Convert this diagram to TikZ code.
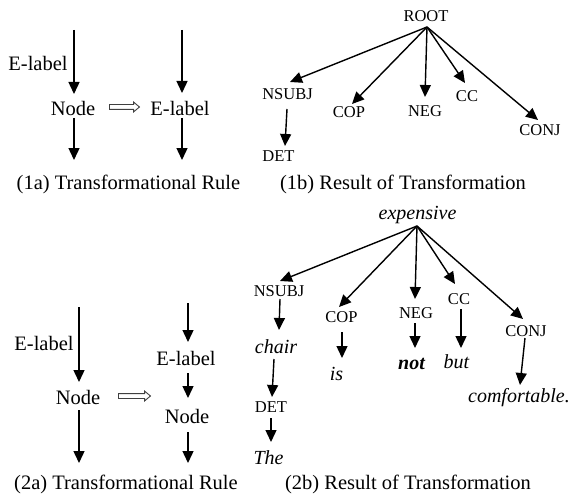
\documentclass[tikz,border=0pt]{standalone}
\usepackage{fontspec}
\setmainfont{Liberation Serif}
\usetikzlibrary{arrows.meta,shapes.arrows}
\tikzset{
  big/.style={font=\fontsize{20.5}{24}\selectfont, inner sep=0pt},
  captxt/.style={font=\fontsize{20.5}{24}\selectfont, inner sep=0pt, anchor=base},
  tl/.style={font=\fontsize{16.5}{20}\selectfont, inner sep=0pt, text height=10.9pt, text depth=0pt},
  wd/.style={font=\fontsize{20}{24}\selectfont\itshape, inner sep=0pt},
  arr/.style={-{Triangle[length=12pt,width=11pt]}, line width=1.4pt},
  hollow/.style={single arrow, draw=black!75, line width=0.9pt, inner sep=0pt,
    single arrow head extend=2.5pt, single arrow tip angle=80,
    text height=4pt, text depth=0pt}
}
\begin{document}
\begin{tikzpicture}[x=1pt,y=-1pt]
\useasboundingbox (0,0) rectangle (571,495);

% ---------- (1a) ----------
\coordinate (c1) at (74,30);
\coordinate (c2) at (74,160);
\coordinate (c3) at (182,30);
\coordinate (c4) at (182,160);
\node[big] (elab1) at (38,63) {E-label};
\node[big] (node1) at (73,108) {Node};
\node[hollow, minimum height=30pt] (ha1) at (123,107) {};
\node[big] (elab2) at (180,108) {E-label};
\draw[arr] (c1) -- ([shift={(1,-14)}]node1.center);
\draw[arr] ([shift={(1,10)}]node1.center) -- (c2);
\draw[arr] (c3) -- ([shift={(2,-15)}]elab2.center);
\draw[arr] ([shift={(2,10)}]elab2.center) -- (c4);
\node[captxt] (cap1a) at (128.5,189) {(1a) Transformational Rule};

% ---------- (1b) ----------
\node[tl] (root) at (426,16) {ROOT};
\node[tl] (nsubj1) at (287.5,94) {NSUBJ};
\node[tl] (cop1) at (349,112.5) {COP};
\node[tl] (neg1) at (425,111) {NEG};
\node[tl] (cc1) at (467,96) {CC};
\node[tl] (conj1) at (540,130) {CONJ};
\node[tl] (det1) at (278.5,156) {DET};
\draw[arr] ([shift={(1,11)}]root.center) -- ([shift={(2.5,-12)}]nsubj1.center);
\draw[arr] ([shift={(1,11)}]root.center) -- ([shift={(3,-8.5)}]cop1.center);
\draw[arr] ([shift={(1,11)}]root.center) -- ([shift={(0,-14)}]neg1.center);
\draw[arr] ([shift={(1,11)}]root.center) -- ([shift={(-2,-13)}]cc1.center);
\draw[arr] ([shift={(1,11)}]root.center) -- ([shift={(-2,-10)}]conj1.center);
\draw[arr] ([shift={(-0.5,15)}]nsubj1.center) -- ([shift={(6.5,-10)}]det1.center);
\node[captxt] (cap1b) at (403,189) {(1b) Result of Transformation};

% ---------- (2a) ----------
\coordinate (c5) at (79,307);
\coordinate (c6) at (79,463);
\coordinate (c7) at (188,303);
\coordinate (c8) at (188,463);
\node[big] (elab3) at (44,343) {E-label};
\node[big] (node3) at (78,397) {Node};
\node[hollow, minimum height=32pt] (ha2) at (133,396) {};
\node[big] (elab4) at (186,358) {E-label};
\node[big] (node4) at (187,416) {Node};
\draw[arr] (c5) -- ([shift={(1,-15)}]node3.center);
\draw[arr] ([shift={(1,13)}]node3.center) -- (c6);
\draw[arr] (c7) -- ([shift={(2,-16)}]elab4.center);
\draw[arr] ([shift={(2,15)}]elab4.center) -- ([shift={(1,-18)}]node4.center);
\draw[arr] ([shift={(1,16)}]node4.center) -- (c8);
\node[captxt] (cap2a) at (126,489) {(2a) Transformational Rule};

% ---------- (2b) ----------
\node[wd] (exp) at (417.5,215) {expensive};
\node[tl] (nsubj2) at (279,291.5) {NSUBJ};
\node[tl] (cop2) at (341.5,317.5) {COP};
\node[tl] (neg2) at (416,313) {NEG};
\node[tl] (cc2) at (459,299) {CC};
\node[tl] (conj2) at (526,331) {CONJ};
\node[wd] (chair) at (276,347) {chair};
\node[tl] (det2) at (271,407) {DET};
\node[wd] (the) at (268.5,458) {The};
\node[wd] (is) at (336.5,374) {is};
\node[wd, font=\fontsize{20}{24}\selectfont\bfseries\itshape] (not) at (411.5,364) {not};
\node[wd] (but) at (456.5,362) {but};
\node[wd] (comf) at (519,398) {comfortable.};
\draw[arr] ([shift={(-0.5,11)}]exp.center) -- ([shift={(1,-10.5)}]nsubj2.center);
\draw[arr] ([shift={(-0.5,11)}]exp.center) -- ([shift={(-2.5,-10.5)}]cop2.center);
\draw[arr] ([shift={(-0.5,11)}]exp.center) -- ([shift={(-1,-14)}]neg2.center);
\draw[arr] ([shift={(-0.5,11)}]exp.center) -- ([shift={(-4,-15)}]cc2.center);
\draw[arr] ([shift={(-0.5,11)}]exp.center) -- ([shift={(-3,-12)}]conj2.center);
\draw[arr] ([shift={(1,7.5)}]nsubj2.center) -- ([shift={(3,-17)}]chair.center);
\draw[arr] ([shift={(-2,12)}]chair.center) -- ([shift={(1,-10)}]det2.center);
\draw[arr] ([shift={(0,11)}]det2.center) -- ([shift={(2.5,-16)}]the.center);
\draw[arr] ([shift={(0.5,14.5)}]cop2.center) -- ([shift={(5.5,-16)}]is.center);
\draw[arr] ([shift={(-1,10)}]neg2.center) -- ([shift={(3.5,-16)}]not.center);
\draw[arr] ([shift={(2,10)}]cc2.center) -- ([shift={(4.5,-14)}]but.center);
\draw[arr] ([shift={(-1,7)}]conj2.center) -- ([shift={(1,-13)}]comf.center);
\node[captxt] (cap2b) at (408,489) {(2b) Result of Transformation};
\end{tikzpicture}
\end{document}
